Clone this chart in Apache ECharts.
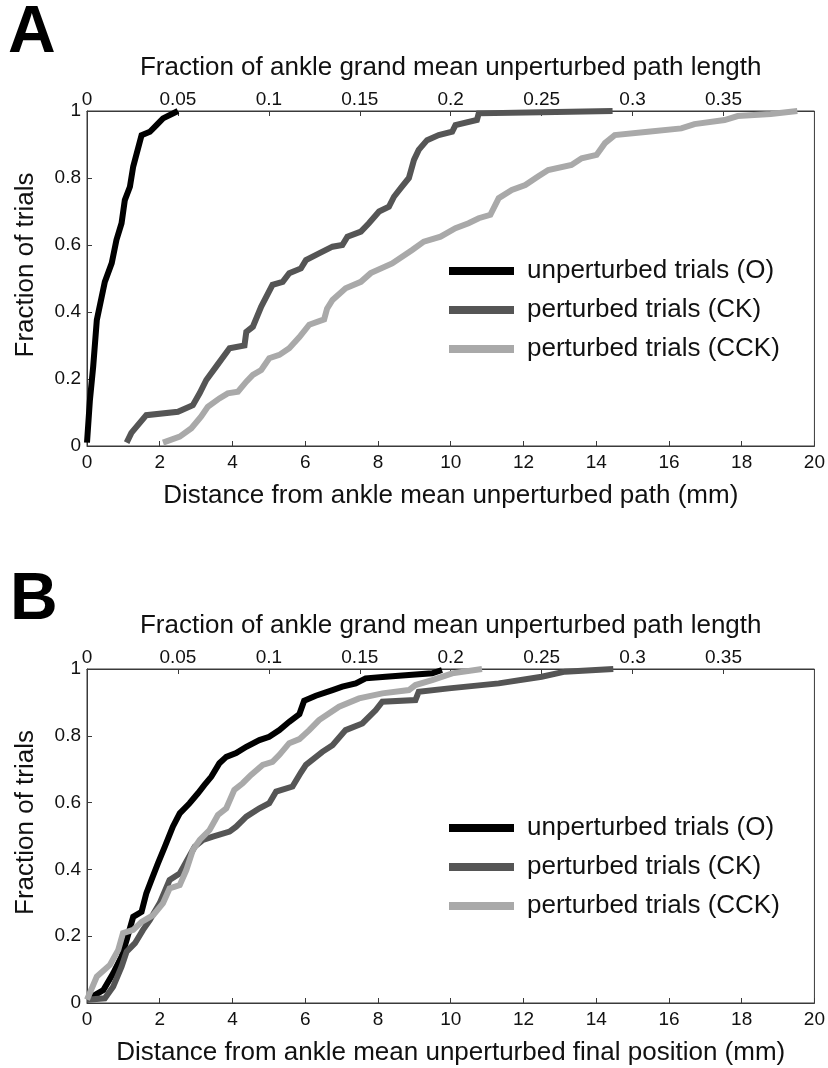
<!DOCTYPE html>
<html>
<head>
<meta charset="utf-8">
<script src="https://cdn.jsdelivr.net/npm/echarts@6/dist/echarts.min.js"></script>
<style>
html,body{margin:0;padding:0;background:#fff;}
#chart{width:828px;height:1068px;}
</style>
</head>
<body>
<div id="chart"></div>
<script>
// ---- Data (x: distance in mm, y: fraction of trials) ----
const seriesNames = ['unperturbed trials (O)', 'perturbed trials (CK)', 'perturbed trials (CCK)'];
const seriesColors = ['#000000', '#555555', '#a9a9a9'];

const xTicksMM = [0, 2, 4, 6, 8, 10, 12, 14, 16, 18, 20];
const xTicksFraction = [0, 0.05, 0.1, 0.15, 0.2, 0.25, 0.3, 0.35];
const yTicks = [0, 0.2, 0.4, 0.6, 0.8, 1];

const panelA_O = [[0,0.01],[0.08,0.137],[0.17,0.237],[0.27,0.376],[0.49,0.49],[0.68,0.546],[0.81,0.615],[0.95,0.665],[1.04,0.734],[1.18,0.774],[1.27,0.834],[1.50,0.928],[1.73,0.938],[1.91,0.958],[2.09,0.978],[2.50,1.0]];
const panelA_CK = [[1.09,0.01],[1.22,0.039],[1.63,0.092],[2.50,0.102],[2.91,0.122],[3.10,0.158],[3.28,0.197],[3.55,0.237],[3.92,0.292],[4.33,0.30],[4.38,0.341],[4.56,0.356],[4.79,0.416],[5.10,0.481],[5.38,0.49],[5.56,0.516],[5.88,0.530],[6.02,0.555],[6.38,0.575],[6.75,0.595],[7.02,0.60],[7.16,0.625],[7.53,0.64],[7.75,0.665],[8.03,0.70],[8.30,0.714],[8.44,0.744],[8.62,0.769],[8.85,0.80],[8.99,0.854],[9.12,0.884],[9.35,0.913],[9.67,0.928],[10.04,0.938],[10.13,0.958],[10.72,0.973],[10.77,0.993],[12.5,0.996],[14.45,1.0]];
const panelA_CCK = [[2.09,0.01],[2.55,0.028],[2.87,0.053],[3.14,0.088],[3.32,0.117],[3.64,0.142],[3.87,0.157],[4.15,0.162],[4.38,0.192],[4.56,0.212],[4.79,0.227],[5.01,0.262],[5.29,0.272],[5.56,0.292],[5.84,0.325],[6.11,0.362],[6.52,0.378],[6.6,0.41],[6.75,0.436],[7.11,0.471],[7.53,0.49],[7.80,0.516],[8.39,0.545],[8.94,0.585],[9.26,0.61],[9.72,0.625],[10.13,0.65],[10.49,0.665],[10.77,0.68],[11.09,0.69],[11.32,0.74],[11.68,0.764],[12.05,0.779],[12.41,0.805],[12.68,0.824],[13.32,0.839],[13.60,0.859],[14.01,0.869],[14.24,0.904],[14.51,0.928],[15.42,0.938],[16.34,0.948],[16.70,0.961],[17.53,0.973],[17.89,0.985],[18.80,0.991],[19.53,1.0]];

const panelB_O = [[0,0.01],[0.45,0.039],[0.72,0.089],[0.95,0.139],[1.09,0.189],[1.27,0.258],[1.50,0.273],[1.63,0.328],[1.77,0.368],[1.95,0.418],[2.14,0.468],[2.36,0.528],[2.55,0.568],[2.82,0.598],[3.05,0.628],[3.23,0.653],[3.42,0.678],[3.64,0.718],[3.83,0.737],[4.10,0.748],[4.38,0.767],[4.74,0.787],[5.01,0.797],[5.29,0.817],[5.56,0.842],[5.84,0.865],[5.97,0.905],[6.29,0.92],[6.75,0.937],[7.02,0.947],[7.39,0.957],[7.66,0.972],[8.21,0.977],[8.85,0.982],[9.49,0.987],[9.76,0.997]];
const panelB_CK = [[0,0.01],[0.49,0.014],[0.72,0.049],[0.95,0.109],[1.09,0.154],[1.32,0.179],[1.54,0.219],[1.73,0.249],[2.00,0.299],[2.27,0.368],[2.55,0.388],[2.73,0.423],[2.96,0.468],[3.19,0.488],[3.46,0.498],[3.92,0.513],[4.10,0.528],[4.38,0.558],[4.74,0.583],[5.01,0.598],[5.20,0.633],[5.65,0.648],[5.88,0.69],[6.02,0.713],[6.47,0.752],[6.75,0.772],[7.11,0.817],[7.57,0.837],[7.94,0.877],[8.12,0.902],[9.03,0.907],[9.12,0.932],[9.95,0.942],[11.32,0.957],[12.50,0.977],[13.14,0.992],[14.47,1.0]];
const panelB_CCK = [[0,0.01],[0.27,0.079],[0.63,0.114],[0.86,0.159],[0.99,0.209],[1.27,0.219],[1.50,0.243],[1.82,0.263],[2.09,0.299],[2.27,0.343],[2.55,0.353],[2.73,0.398],[2.91,0.458],[3.10,0.488],[3.37,0.518],[3.60,0.563],[3.83,0.583],[4.05,0.638],[4.28,0.658],[4.51,0.683],[4.83,0.713],[5.10,0.722],[5.29,0.743],[5.56,0.778],[5.84,0.79],[6.11,0.817],[6.38,0.847],[6.93,0.887],[7.48,0.912],[8.12,0.927],[8.85,0.937],[9.03,0.952],[9.49,0.967],[10.04,0.987],[10.86,1.0]];

const panelA_xName = 'Distance from ankle mean unperturbed path (mm)';
const panelB_xName = 'Distance from ankle mean unperturbed final position (mm)';
const topName = 'Fraction of ankle grand mean unperturbed path length';
const yName = 'Fraction of trials';

// ---- Styling ----
const FONT = '"Liberation Sans", Arial, Helvetica, sans-serif';
const axisColor = '#3a3a3a';
const grids = [
  {left: 87, top: 111, width: 729, height: 335},
  {left: 87, top: 669, width: 729, height: 334}
];

function bottomAxis(gi, name) {
  return {
    type: 'value', gridIndex: gi, position: 'bottom',
    min: xTicksMM[0], max: xTicksMM[xTicksMM.length - 1], interval: xTicksMM[1] - xTicksMM[0],
    name: name, nameLocation: 'middle', nameGap: 37,
    nameTextStyle: {fontFamily: FONT, fontSize: 26, color: '#111'},
    axisLine: {show: true, onZero: false, lineStyle: {color: axisColor, width: 1}},
    axisTick: {show: true, inside: true, length: 5, lineStyle: {color: axisColor}},
    axisLabel: {fontFamily: FONT, fontSize: 19, color: '#111', margin: 7, hideOverlap: false},
    splitLine: {show: false}
  };
}
function topAxis(gi) {
  return {
    type: 'value', gridIndex: gi, position: 'top',
    min: 0, max: 0.4, interval: xTicksFraction[1] - xTicksFraction[0],
    name: topName, nameLocation: 'middle', nameGap: 30,
    nameTextStyle: {fontFamily: FONT, fontSize: 26, color: '#111'},
    axisLine: {show: true, onZero: false, lineStyle: {color: axisColor, width: 1}},
    axisTick: {show: true, inside: true, length: 5, lineStyle: {color: axisColor}},
    axisLabel: {fontFamily: FONT, fontSize: 19, color: '#111', margin: 2, showMaxLabel: false, showMinLabel: true, hideOverlap: false,
      formatter: v => (xTicksFraction.some(t => Math.abs(t - v) < 1e-9) ? String(+v.toFixed(2)) : '')},
    splitLine: {show: false}
  };
}
function leftAxis(gi) {
  return {
    type: 'value', gridIndex: gi,
    min: yTicks[0], max: yTicks[yTicks.length - 1], interval: yTicks[1] - yTicks[0],
    name: yName, nameLocation: 'middle', nameGap: 48, nameRotate: 90,
    nameTextStyle: {fontFamily: FONT, fontSize: 26, color: '#111', padding: [0, 0, 0, 27]},
    axisLine: {show: true, onZero: false, lineStyle: {color: axisColor, width: 1}},
    axisTick: {show: true, inside: true, length: 5, lineStyle: {color: axisColor}},
    axisLabel: {fontFamily: FONT, fontSize: 19, color: '#111', margin: 6, hideOverlap: false,
      formatter: v => String(+v.toFixed(1))},
    splitLine: {show: false}
  };
}
function lineSeries(idx, xi, yi, data) {
  return {
    type: 'line', name: seriesNames[idx], xAxisIndex: xi, yAxisIndex: yi,
    data: data, showSymbol: false, symbol: 'none', clip: false, animation: false,
    color: seriesColors[idx],
    itemStyle: {color: seriesColors[idx]},
    lineStyle: {color: seriesColors[idx], width: 6, cap: 'butt', join: 'miter'},
    emphasis: {disabled: true}, z: 3 + idx
  };
}
function legend(top) {
  return {
    orient: 'vertical', left: 444, top: top, itemWidth: 65, itemHeight: 8, itemGap: 13,
    icon: 'rect', data: seriesNames, selectedMode: false,
    textStyle: {fontFamily: FONT, fontSize: 26, color: '#111', padding: [0, 0, 0, 8]}
  };
}

const chart = echarts.init(document.getElementById('chart'), null, {renderer: 'canvas'});
chart.setOption({
  backgroundColor: '#ffffff',
  animation: false,
  grid: grids.map(g => Object.assign({show: true, borderColor: axisColor, borderWidth: 1, backgroundColor: 'transparent'}, g)),
  xAxis: [bottomAxis(0, panelA_xName), topAxis(0), bottomAxis(1, panelB_xName), topAxis(1)],
  yAxis: [leftAxis(0), leftAxis(1)],
  legend: [legend(253), legend(810)],
  series: [
    lineSeries(0, 0, 0, panelA_O), lineSeries(1, 0, 0, panelA_CK), lineSeries(2, 0, 0, panelA_CCK),
    lineSeries(0, 2, 1, panelB_O), lineSeries(1, 2, 1, panelB_CK), lineSeries(2, 2, 1, panelB_CCK)
  ],
  graphic: [
    {type: 'text', left: 8, top: 1, style: {text: 'A', fontFamily: FONT, fontWeight: 'bold', fontSize: 66, fill: '#000'}},
    {type: 'text', left: 10, top: 568, style: {text: 'B', fontFamily: FONT, fontWeight: 'bold', fontSize: 66, fill: '#000'}}
  ]
});
</script>
</body>
</html>
